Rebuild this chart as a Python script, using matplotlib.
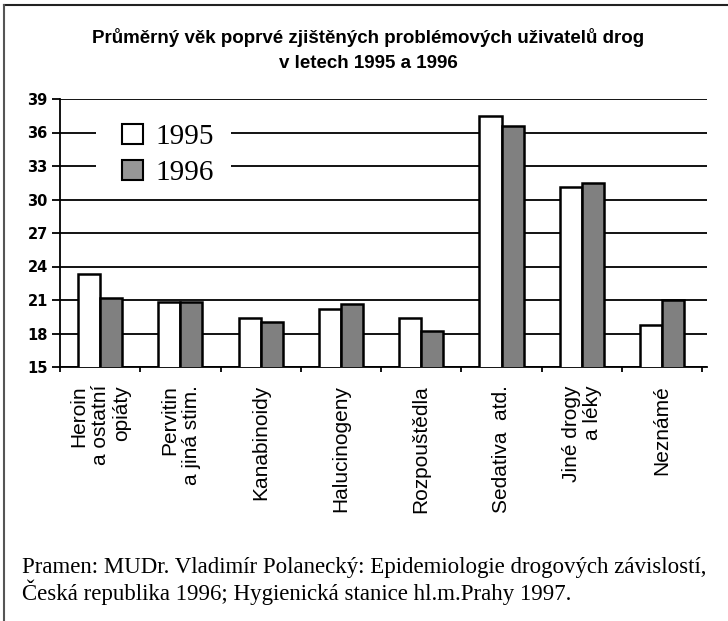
'''
prumerny vek poprve zjistenych problemovych uzivatelu drog, 1995 a 1996
'''

import matplotlib
matplotlib.use('Agg')
import matplotlib.pyplot as plt
from matplotlib.patches import Patch, Rectangle
from matplotlib.lines import Line2D
import numpy as np

categories = ['Heroin\na ostatní\nopiáty', 'Pervitin\na jiná stim.', 'Kanabinoidy',
              'Halucinogeny', 'Rozpouštědla', 'Sedativa  atd.', 'Jiné drogy\na léky',
              'Neznámé']
vek_1995 = [23.3, 20.85, 19.35, 20.15, 19.35, 37.45, 31.15, 18.75]
vek_1996 = [21.15, 20.85, 19.05, 20.65, 18.2, 36.6, 31.45, 21.0]
yticks = [15, 18, 21, 24, 27, 30, 33, 36, 39]
series = ['1995', '1996']

title = 'Průměrný věk poprvé zjištěných problémových uživatelů drog\nv letech 1995 a 1996'
source1 = 'Pramen: MUDr. Vladimír Polanecký: Epidemiologie drogových závislostí,'
source2 = 'Česká republika 1996; Hygienická stanice hl.m.Prahy 1997.'

W, H = 728, 621
fig = plt.figure(figsize=(W / 100, H / 100), dpi=100)

# axes box in pixels: left 60, right 707, top 99, bottom 367
ax = fig.add_axes([60 / W, 1 - 367 / H, (707 - 60) / W, (367 - 99) / H])

x = np.arange(len(categories))
bw = 0.275
ax.bar(x - bw / 2, vek_1995, bw, color='white', edgecolor='black',
       linewidth=1.8, zorder=3)
ax.bar(x + bw / 2, vek_1996, bw, color='#808080', edgecolor='black',
       linewidth=1.8, zorder=3)

ax.set_ylim(15, 39)
ax.set_xlim(-0.5, 7.56)
ax.set_yticks(yticks)
ax.set_yticklabels([str(v) for v in yticks], fontsize=10.5, fontweight='bold',
                   family='DejaVu Sans')
ax.yaxis.grid(True, color='black', linewidth=1.3)
ax.set_axisbelow(True)

ax.set_xticks(x)
ax.set_xticklabels(categories, rotation=90, fontsize=15, family='Liberation Sans',
                   multialignment='right', linespacing=1.15)
ax.set_xticks(np.arange(-0.5, len(categories)), minor=True)
ax.tick_params(axis='x', which='major', length=0, pad=13)
ax.tick_params(axis='x', which='minor', length=3.8, width=1.3, direction='out')
ax.tick_params(axis='y', length=5.8, width=1.3, direction='out', pad=3)

for s in ['top', 'right']:
    ax.spines[s].set_visible(False)
for s in ['left', 'bottom']:
    ax.spines[s].set_linewidth(1.3)

# white box behind the legend hides the gridlines
ax.add_patch(Rectangle((0.056, 0.66), 0.208, 0.30, transform=ax.transAxes,
                       facecolor='white', edgecolor='none', zorder=1))
handles = [Patch(facecolor='white', edgecolor='black', linewidth=1.5),
           Patch(facecolor='#969696', edgecolor='black', linewidth=1.5)]
ax.legend(handles, series, loc='upper left', bbox_to_anchor=(0.096, 0.907),
          borderaxespad=0, borderpad=0, frameon=False,
          prop={'family': 'Liberation Serif', 'size': 21},
          handlelength=0.72, handleheight=0.7, handletextpad=0.42,
          labelspacing=0.33)

fig.text(368 / W, 1 - 50 / H, title, ha='center', va='center', fontsize=13.5,
         fontweight='bold', family='Liberation Sans', linespacing=1.6)

fig.text(22 / W, 1 - 568 / H, source1, ha='left', va='center', fontsize=16.5,
         family='Liberation Serif')
fig.text(22 / W, 1 - 592 / H, source2, ha='left', va='center', fontsize=16.5,
         family='Liberation Serif')

# frame lines at top and left of the picture
fig.add_artist(Line2D([4 / W, 1], [1 - 5 / H, 1 - 5 / H], color='#222222',
                      linewidth=1.5, transform=fig.transFigure))
fig.add_artist(Line2D([4 / W, 4 / W], [0, 1 - 5 / H], color='#555555',
                      linewidth=1.5, transform=fig.transFigure))

plt.savefig('out.png', dpi=100)
plt.close()
